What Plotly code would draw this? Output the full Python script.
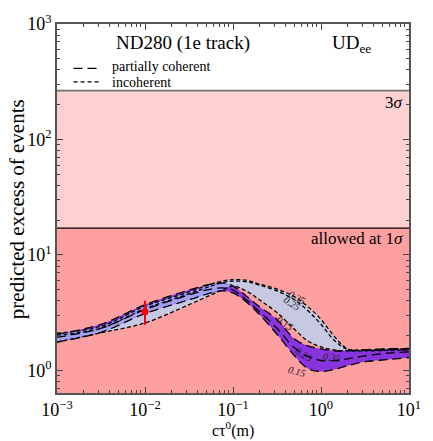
import numpy as np
import plotly.graph_objects as go

# ---------------- data ----------------
ctau = [0.001, 0.00316, 0.01, 0.0316, 0.0562, 0.0794, 0.1, 0.141, 0.2, 0.316,
        0.5, 0.708, 1.0, 1.41, 2.0, 3.16, 5.62, 10.0]

incoh_035 = [2.10, 2.41, 3.60, 4.78, 5.59, 5.99, 6.11, 6.05, 5.59, 5.07, 4.34, 3.57, 2.77, 1.98, 1.54, 1.51, 1.52, 1.54]
incoh_025 = [2.02, 2.32, 3.43, 4.60, 5.38, 5.82, 5.93, 5.87, 5.49, 4.88, 4.09, 3.30, 2.51, 1.83, 1.52, 1.49, 1.51, 1.52]
incoh_015 = [1.76, 2.12, 2.58, 3.71, 4.51, 5.07, 5.38, 4.88, 4.09, 3.17, 2.27, 1.80, 1.60, 1.51, 1.48, 1.48, 1.49, 1.51]

part_035 = [2.06, 2.51, 3.71, 4.97, 5.59, 5.70, 5.38, 4.42, 3.57, 2.77, 1.87, 1.63, 1.54, 1.48, 1.48, 1.51, 1.54, 1.55]
part_025 = [1.94, 2.32, 3.36, 4.51, 5.07, 5.17, 4.97, 4.09, 3.23, 2.32, 1.57, 1.32, 1.22, 1.22, 1.26, 1.34, 1.41, 1.45]
part_015 = [1.76, 2.14, 3.11, 4.09, 4.69, 4.88, 4.69, 3.93, 3.05, 2.06, 1.34, 1.04, 0.98, 1.02, 1.10, 1.19, 1.24, 1.29]

# measured point
point_x = [0.01]
point_y = [3.23]
point_err_up = [0.78]
point_err_dn = [0.74]

# significance levels
level_1sigma = 17.1
level_3sigma = 265.0

# curve label positions (x, y, text, angle)
curve_labels = [
    (0.531, 4.25, "0.35", 28),
    (0.468, 3.78, "0.25", 32),
    (0.392, 2.56, "0.15", 33),
    (0.634, 1.37, "0.25", 33),
    (1.32, 1.29, "0.35", 8),
    (0.531, 0.98, "0.15", 14),
]

x_ticks = [0.001, 0.01, 0.1, 1, 10]
x_ticktext = ["10<sup>\u22123</sup>", "10<sup>\u22122</sup>", "10<sup>\u22121</sup>", "10<sup>0</sup>", "10<sup>1</sup>"]
y_ticks = [1, 10, 100, 1000]
y_ticktext = ["10<sup>0</sup>", "10<sup>1</sup>", "10<sup>2</sup>", "10<sup>3</sup>"]

# ---------------- styling ----------------
FONT = "Liberation Serif"
C_INC = "#C6C9E1"
C_PART = "#8A34E0"
C_OVL = "#A3A0F4"
C_ALLOWED = "#FFA0A0"
C_3S = "#FFD0D0"
DASH_LONG = "9px,5px"
DASH_SHORT = "4px,2.5px"

fig = go.Figure()

def band(lo, hi, color):
    fig.add_trace(go.Scatter(x=ctau, y=lo, mode="lines", line=dict(width=0, shape="spline"),
                             showlegend=False, hoverinfo="skip"))
    fig.add_trace(go.Scatter(x=ctau, y=hi, mode="lines", line=dict(width=0, shape="spline"),
                             fill="tonexty", fillcolor=color, showlegend=False, hoverinfo="skip"))

band(incoh_015, incoh_035, C_INC)
band(part_015, part_035, C_PART)
ovl_lo = np.maximum(incoh_015, part_015)
ovl_hi = np.minimum(incoh_035, part_035)
ovl_hi = np.where(ovl_hi > ovl_lo, ovl_hi, ovl_lo)
band(list(ovl_lo), list(ovl_hi), C_OVL)

for ys in (incoh_015, incoh_025, incoh_035):
    fig.add_trace(go.Scatter(x=ctau, y=ys, mode="lines",
                             line=dict(color="black", width=1.3, dash=DASH_SHORT, shape="spline"),
                             showlegend=False, hoverinfo="skip"))
for ys in (part_015, part_025, part_035):
    fig.add_trace(go.Scatter(x=ctau, y=ys, mode="lines",
                             line=dict(color="black", width=1.3, dash=DASH_LONG, shape="spline"),
                             showlegend=False, hoverinfo="skip"))

fig.add_trace(go.Scatter(x=point_x, y=point_y, mode="markers",
                         marker=dict(color="red", size=7),
                         error_y=dict(type="data", array=point_err_up, arrayminus=point_err_dn,
                                      color="red", thickness=2, width=0),
                         showlegend=False))

# background bands
fig.add_shape(type="rect", xref="paper", x0=0, x1=1, yref="y", y0=0.3, y1=level_1sigma,
              fillcolor=C_ALLOWED, line_width=0, layer="below")
fig.add_shape(type="rect", xref="paper", x0=0, x1=1, yref="y", y0=level_1sigma, y1=level_3sigma,
              fillcolor=C_3S, line_width=0, layer="below")
fig.add_shape(type="line", xref="paper", x0=0, x1=1, yref="y", y0=level_1sigma, y1=level_1sigma,
              line=dict(color="black", width=1.3))
fig.add_shape(type="line", xref="paper", x0=0, x1=1, yref="y", y0=level_3sigma, y1=level_3sigma,
              line=dict(color="#707070", width=1.8))

# legend samples
fig.add_shape(type="line", xref="paper", yref="paper", x0=0.047, x1=0.113, y0=0.880, y1=0.880,
              line=dict(color="black", width=1.3, dash=DASH_LONG))
fig.add_shape(type="line", xref="paper", yref="paper", x0=0.047, x1=0.118, y0=0.843, y1=0.843,
              line=dict(color="black", width=1.3, dash="4px,3px"))

ann = []
ann.append(dict(xref="paper", yref="paper", x=0.151, y=0.884, text="partially coherent",
                showarrow=False, xanchor="left", yanchor="middle", font=dict(family=FONT, size=14, color="black")))
ann.append(dict(xref="paper", yref="paper", x=0.151, y=0.842, text="incoherent",
                showarrow=False, xanchor="left", yanchor="middle", font=dict(family=FONT, size=14, color="black")))
ann.append(dict(xref="paper", yref="paper", x=0.163, y=0.948, text="ND280 (1e track)",
                showarrow=False, xanchor="left", yanchor="middle", font=dict(family=FONT, size=19, color="black")))
ann.append(dict(xref="paper", yref="paper", x=0.775, y=0.946, text="UD<sub>ee</sub>",
                showarrow=False, xanchor="left", yanchor="middle", font=dict(family=FONT, size=19, color="black")))
ann.append(dict(xref="paper", yref="paper", x=0.990, y=0.787, text="3<i>\u03c3</i>",
                showarrow=False, xanchor="right", yanchor="middle", font=dict(family=FONT, size=17, color="black")))
ann.append(dict(xref="paper", yref="paper", x=0.990, y=0.418, text="allowed at 1<i>\u03c3</i>",
                showarrow=False, xanchor="right", yanchor="middle", font=dict(family=FONT, size=17, color="black")))
ann.append(dict(xref="paper", yref="paper", x=-0.115, y=0.497, text="predicted excess of events",
                textangle=-90, showarrow=False, xanchor="center", yanchor="middle",
                font=dict(family=FONT, size=21, color="black")))
ann.append(dict(xref="paper", yref="paper", x=0.501, y=-0.129, text="c\u03c4<sup>0</sup>(m)",
                showarrow=False, xanchor="center", yanchor="bottom", borderpad=0,
                font=dict(family=FONT, size=16, color="black")))
for lx, ly, lt, la in curve_labels:
    ann.append(dict(xref="x", yref="y", x=np.log10(lx), y=np.log10(ly), text="<i>" + lt + "</i>",
                    textangle=la, showarrow=False, xanchor="center", yanchor="middle",
                    font=dict(family=FONT, size=10, color="#222")))

minor_x = [m * 10.0 ** e for e in range(-3, 1) for m in range(2, 10)]
minor_y = [m * 10.0 ** e for e in range(-1, 3) for m in range(2, 10) if 0.63 < m * 10.0 ** e < 1000]

axis_common = dict(showgrid=False, zeroline=False, showline=True, linecolor="#555", linewidth=1.5,
                   mirror="allticks", ticks="inside", ticklen=6, tickcolor="#444", tickwidth=1,
                   tickfont=dict(family=FONT, size=18, color="black"))

fig.update_layout(
    width=433, height=441,
    margin=dict(l=57, r=12, t=17, b=48),
    paper_bgcolor="white", plot_bgcolor="white",
    showlegend=False,
    annotations=ann,
    xaxis=dict(type="log", range=[-3, 1], tickmode="array", tickvals=x_ticks, ticktext=x_ticktext,
               ticklabelstandoff=0,
               minor=dict(tickmode="array", tickvals=minor_x, ticks="inside", ticklen=3, tickcolor="#444"),
               **axis_common),
    yaxis=dict(type="log", range=[np.log10(0.638), 3], tickmode="array", tickvals=y_ticks, ticktext=y_ticktext,
               minor=dict(tickmode="array", tickvals=minor_y, ticks="inside", ticklen=3, tickcolor="#444"),
               **axis_common),
)

fig.write_html("out.html")
